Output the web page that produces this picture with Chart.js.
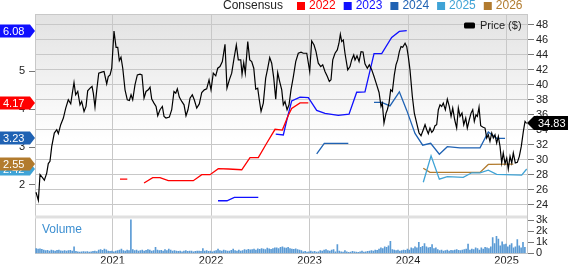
<!DOCTYPE html>
<html>
<head>
<meta charset="utf-8">
<script src="https://cdn.jsdelivr.net/npm/chart.js@4.4.1/dist/chart.umd.min.js"></script>
<style>
  html, body { margin: 0; padding: 0; background: #fff; }
  #wrap { position: relative; width: 568px; height: 264px; }
</style>
</head>
<body>
<div id="wrap"><canvas id="chart" width="568" height="264"></canvas></div>
<script>
// price line (decimal years)
var priceTimes = [
  2020.223, 2020.247, 2020.264, 2020.291, 2020.308, 2020.332, 2020.348, 2020.365, 2020.383, 2020.409,
  2020.434, 2020.450, 2020.474, 2020.501, 2020.525, 2020.551, 2020.576, 2020.592, 2020.609, 2020.626,
  2020.647, 2020.670, 2020.687, 2020.711, 2020.731, 2020.748, 2020.772, 2020.792, 2020.805, 2020.822,
  2020.840, 2020.860, 2020.890, 2020.914, 2020.941, 2020.957, 2020.975, 2020.992, 2021.015, 2021.036,
  2021.053, 2021.069, 2021.086, 2021.104, 2021.127, 2021.150, 2021.171, 2021.188, 2021.205, 2021.228,
  2021.252, 2021.279, 2021.299, 2021.320, 2021.340, 2021.363, 2021.381, 2021.398, 2021.421, 2021.442,
  2021.459, 2021.482, 2021.506, 2021.523, 2021.543, 2021.577, 2021.601, 2021.624, 2021.642, 2021.658,
  2021.678, 2021.703, 2021.726, 2021.746, 2021.766, 2021.787, 2021.810, 2021.830, 2021.855, 2021.881,
  2021.906, 2021.932, 2021.956, 2021.980, 2022.000, 2022.023, 2022.048, 2022.068, 2022.091, 2022.115,
  2022.142, 2022.162, 2022.186, 2022.210, 2022.234, 2022.257, 2022.277, 2022.302, 2022.315, 2022.332,
  2022.348, 2022.373, 2022.393, 2022.413, 2022.434, 2022.454, 2022.474, 2022.490, 2022.508, 2022.531,
  2022.555, 2022.576, 2022.596, 2022.616, 2022.637, 2022.657, 2022.677, 2022.697, 2022.718, 2022.734,
  2022.751, 2022.772, 2022.792, 2022.812, 2022.836, 2022.860, 2022.886, 2022.914, 2022.937, 2022.972,
  2023.002, 2023.022, 2023.046, 2023.066, 2023.089, 2023.114, 2023.134, 2023.157, 2023.181, 2023.201,
  2023.218, 2023.236, 2023.259, 2023.282, 2023.299, 2023.313, 2023.327, 2023.343, 2023.360, 2023.388,
  2023.411, 2023.428, 2023.449, 2023.462, 2023.482, 2023.503, 2023.523, 2023.543, 2023.563, 2023.587,
  2023.607, 2023.632, 2023.655, 2023.682, 2023.706, 2023.726, 2023.739, 2023.756, 2023.777, 2023.790,
  2023.807, 2023.824, 2023.841, 2023.861, 2023.878, 2023.895, 2023.912, 2023.929, 2023.946, 2023.970,
  2023.987, 2024.003, 2024.020, 2024.044, 2024.064, 2024.088, 2024.112, 2024.132, 2024.155, 2024.173,
  2024.190, 2024.206, 2024.223, 2024.241, 2024.257, 2024.274, 2024.291, 2024.308, 2024.325, 2024.342,
  2024.358, 2024.379, 2024.399, 2024.419, 2024.437, 2024.454, 2024.474, 2024.494, 2024.511, 2024.528,
  2024.548, 2024.566, 2024.586, 2024.602, 2024.622, 2024.640, 2024.657, 2024.673, 2024.690, 2024.704,
  2024.721, 2024.738, 2024.758, 2024.782, 2024.799, 2024.815, 2024.832, 2024.850, 2024.866, 2024.883,
  2024.900, 2024.917, 2024.934, 2024.951, 2024.967, 2024.985, 2025.002, 2025.018, 2025.036, 2025.053,
  2025.069, 2025.089, 2025.110, 2025.130, 2025.150, 2025.171, 2025.188, 2025.205
];
var prices = [
  25.64, 24.57, 28.00, 27.56, 27.24, 28.20, 29.47, 29.78, 31.77, 33.55,
  34.00, 33.47, 34.67, 35.56, 36.89, 38.00, 37.47, 38.89, 40.31, 38.67,
  39.11, 37.33, 37.78, 36.44, 37.11, 39.20, 39.56, 39.78, 38.89, 37.02,
  39.33, 41.56, 41.69, 41.78, 40.13, 41.11, 41.33, 42.22, 47.20, 45.02,
  45.02, 43.24, 43.69, 42.22, 39.33, 38.00, 37.91, 38.67, 38.00, 40.00,
  41.33, 41.42, 41.33, 38.22, 39.11, 39.33, 39.69, 38.09, 37.56, 37.11,
  35.87, 36.67, 37.11, 35.78, 35.56, 35.69, 36.67, 39.11, 38.89, 39.47,
  38.36, 37.78, 37.33, 35.87, 36.67, 38.22, 38.67, 38.00, 36.89, 37.45,
  38.98, 39.33, 39.47, 40.67, 39.33, 41.56, 41.20, 42.22, 42.44, 43.11,
  45.42, 39.56, 40.67, 41.56, 43.56, 45.33, 43.33, 43.33, 41.42, 42.98,
  41.56, 45.78, 43.33, 43.11, 42.22, 39.42, 39.56, 38.00, 36.44, 37.56,
  40.89, 42.22, 43.64, 42.89, 40.89, 38.09, 41.64, 40.44, 39.33, 37.33,
  37.78, 36.67, 37.33, 39.33, 41.11, 43.11, 44.22, 44.36, 44.22, 44.22,
  41.78, 45.87, 45.33, 44.44, 42.89, 42.44, 42.67, 41.78, 41.11, 40.44,
  40.67, 43.33, 44.22, 44.67, 45.56, 46.76, 45.78, 46.00, 44.22, 42.00,
  42.44, 43.33, 44.00, 43.33, 43.87, 43.11, 44.44, 44.40, 42.80, 42.22,
  42.67, 42.00, 41.11, 40.00, 38.98, 37.11, 37.56, 34.89, 36.22, 36.67,
  37.56, 39.33, 39.11, 41.33, 42.67, 43.33, 44.44, 45.11, 45.02, 45.56,
  45.11, 43.78, 42.00, 38.44, 36.22, 34.89, 33.56, 33.20, 34.00, 34.67,
  34.00, 33.47, 34.22, 33.64, 33.91, 34.53, 34.67, 36.67, 37.33, 37.11,
  37.56, 36.67, 38.09, 37.11, 35.78, 36.89, 35.33, 34.22, 36.89, 35.78,
  36.22, 34.67, 35.56, 34.22, 35.33, 36.22, 36.67, 35.11, 36.00, 35.78,
  37.02, 34.53, 34.36, 34.22, 32.89, 33.33, 32.44, 33.56, 32.89, 33.33,
  32.22, 33.11, 31.77, 29.56, 30.89, 29.47, 30.22, 28.76, 30.44, 29.56,
  30.89, 29.56, 29.64, 30.44, 31.77, 33.78, 35.11, 34.83
];

// consensus EPS by fiscal year (null = gap in the line)
var cons2022Times = [2021.076, 2021.150, 2021.235, 2021.320, 2021.408, 2021.482, 2021.566, 2021.820, 2021.906, 2021.990,
  2022.074, 2022.176, 2022.312, 2022.396, 2022.480, 2022.565, 2022.650, 2022.724, 2022.785, 2022.819, 2022.904, 2022.988];
var cons2022 = [2.15, 2.15, null, 2.05, 2.19, 2.19, 2.11, 2.11, 2.27, 2.27,
  2.43, 2.42, 2.40, 2.72, 2.72, 3.10, 3.47, 3.45, 3.84, 4.02, 4.17, 4.17];
var cons2023Times = [2022.071, 2022.162, 2022.237, 2022.480, 2022.570, 2022.657, 2022.734, 2022.769, 2022.819, 2022.904,
  2022.988, 2023.073, 2023.157, 2023.292, 2023.401, 2023.479, 2023.563, 2023.655, 2023.733, 2023.834, 2023.912, 2023.987];
var cons2023 = [1.58, 1.58, 1.67, 1.67, null, 3.34, 3.32, 3.71, 4.22, 4.32,
  4.31, 3.97, 3.89, 3.84, 3.87, 4.45, 4.46, 5.47, 5.47, 5.90, 6.06, 6.08];
var cons2024Times = [2023.073, 2023.150, 2023.394, 2023.520, 2023.655, 2023.733, 2023.817, 2023.912, 2023.987, 2024.071,
  2024.149, 2024.230, 2024.318, 2024.399, 2024.528, 2024.731, 2024.815, 2024.900, 2024.985];
var cons2024 = [2.82, 3.10, 3.10, null, 4.18, 4.18, 4.09, 4.46, 3.97, 3.36,
  3.05, 3.10, 2.81, 3.01, 2.98, 2.98, 3.40, 3.23, 3.23];
var cons2025Times = [2024.155, 2024.234, 2024.318, 2024.399, 2024.561, 2024.647, 2024.731, 2024.815, 2024.900, 2025.154, 2025.205];
var cons2025 = [2.07, 2.77, 2.15, 2.22, 2.20, 2.32, 2.32, 2.39, 2.28, 2.26, 2.42];
var cons2026Times = [2024.155, 2024.223, 2024.731, 2024.815, 2025.069];
var cons2026 = [2.44, 2.33, 2.33, 2.54, 2.55];

// weekly volume in thousands, first week starting at volumeStart
var volumeStart = 2020.225;
var volumes = [
  0.45, 0.4, 0.42, 0.38, 0.3, 0.25, 0.28, 0.22, 0.3, 0.25, 0.2, 0.27, 0.3, 0.24, 0.22, 0.26, 0.2, 0.25, 0.28, 0.22,
  0.6, 0.18, 0.15, 0.12, 0.15, 0.17, 0.14, 0.16, 0.13, 0.15, 0.18, 0.2, 0.17, 0.3, 0.35, 0.28, 0.4, 0.32, 0.2, 0.18,
  0.22, 0.15, 0.2, 0.25, 0.3, 0.4, 0.25, 0.2, 0.3, 0.25, 3.05, 0.35, 0.25, 0.3, 0.2, 0.25, 0.3, 0.22, 0.28, 0.35,
  0.3, 0.2, 0.25, 0.55, 0.3, 0.25, 0.28, 0.2, 0.35, 0.25, 0.4, 0.3, 0.22, 0.25, 0.2, 0.18, 0.22, 0.15, 0.2, 0.25,
  0.18, 0.22, 0.2, 0.15, 0.18, 0.22, 0.2, 0.18, 0.45, 0.2, 0.25, 0.18, 0.22, 0.15, 0.2, 0.25, 0.4, 0.25, 0.2, 0.3,
  0.25, 0.2, 0.22, 0.28, 0.4, 0.25, 0.2, 0.3, 0.22, 0.25, 0.35, 0.3, 0.38, 0.32, 0.35, 0.4, 0.3, 0.42, 0.38, 0.45,
  0.4, 0.35, 0.48, 0.42, 0.38, 0.45, 0.5, 0.5, 0.45, 0.55, 0.6, 0.5, 0.48, 0.55, 0.45, 0.4, 0.38, 0.42, 0.35, 0.3,
  0.25, 0.15, 0.18, 0.12, 0.15, 0.2, 0.15, 0.18, 0.12, 0.15, 0.25, 0.2, 0.3, 0.35, 0.25, 0.2, 0.3, 0.35, 0.15, 0.8,
  0.2, 0.15, 0.12, 0.25, 0.15, 0.1, 0.12, 0.18, 0.15, 0.12, 0.1, 0.15, 0.2, 0.12, 0.15, 0.18, 0.22, 0.25, 0.2, 0.3,
  0.28, 0.4, 0.5, 0.45, 0.6, 0.55, 0.7, 1.1, 0.35, 0.3, 0.25, 0.3, 0.2, 0.25, 0.3, 0.28, 0.4, 0.3, 0.5, 0.45,
  0.6, 0.5, 1.0, 0.55, 0.65, 0.9, 0.6, 0.5, 0.55, 0.8, 0.45, 0.5, 0.35, 0.25, 0.3, 0.2, 0.25, 0.3, 0.22, 0.28,
  0.25, 0.3, 0.35, 0.28, 0.25, 0.3, 0.35, 0.4, 0.85, 0.3, 0.4, 0.35, 0.5, 0.45, 0.3, 0.5, 0.4, 0.55, 0.5, 0.45,
  0.6, 1.45, 0.9, 1.55, 1.3, 0.7, 1.05, 0.8, 0.85, 0.6, 0.75, 0.9, 0.5, 0.6, 1.25, 0.7, 0.5, 1.0, 0.55
];

var yearTicks = [2021, 2022, 2023, 2024, 2025];
var priceTicks = [24, 26, 28, 30, 32, 34, 36, 38, 40, 42, 44, 46, 48];
var epsTicks = [2, 3, 4, 5];
var volumeTicks = [0, 1, 2, 3];

var consYears = ['2022', '2023', '2024', '2025', '2026'];
var consColors = ['#ff0000', '#1010ff', '#1f62b3', '#3fa3d6', '#b27b2e'];

var FONT = 'Liberation Sans, Arial, sans-serif';

function pairs(xs, ys) {
  return xs.map(function (x, i) { return { x: x, y: ys[i] }; });
}

var consSeries = [
  [cons2022Times, cons2022], [cons2023Times, cons2023], [cons2024Times, cons2024],
  [cons2025Times, cons2025], [cons2026Times, cons2026]
];

var datasets = [{
  type: 'line',
  label: 'Price ($)',
  data: pairs(priceTimes, prices),
  yAxisID: 'yPrice',
  borderColor: '#000',
  borderWidth: 1.2,
  pointRadius: 0,
  tension: 0
}];

consSeries.forEach(function (s, i) {
  datasets.push({
    type: 'line',
    label: consYears[i],
    data: pairs(s[0], s[1]),
    yAxisID: 'yEps',
    borderColor: consColors[i],
    borderWidth: 1.3,
    pointRadius: 0,
    tension: 0,
    spanGaps: false
  });
});

datasets.push({
  type: 'bar',
  label: 'Volume',
  data: volumes.map(function (v, i) { return { x: volumeStart + i / 52, y: v }; }),
  xAxisID: 'x',
  yAxisID: 'yVol',
  backgroundColor: '#5b9bd5',
  barThickness: 1
});

// background, panel split, labels on both sides
var decor = {
  id: 'decor',
  beforeDraw: function (chart) {
    var ctx = chart.ctx, ca = chart.chartArea, yP = chart.scales.yPrice;
    ctx.save();
    var g = ctx.createLinearGradient(0, yP.top, 0, yP.bottom);
    g.addColorStop(0, '#e2e2e2');
    g.addColorStop(0.62, '#ffffff');
    ctx.fillStyle = g;
    ctx.fillRect(ca.left, yP.top, ca.right - ca.left, yP.bottom - yP.top);
    ctx.restore();
  },
  beforeDatasetsDraw: function (chart) {
    var ctx = chart.ctx, ca = chart.chartArea, yP = chart.scales.yPrice;
    ctx.save();
    ctx.fillStyle = '#e0e0e0';
    ctx.fillRect(ca.left, yP.bottom, ca.right - ca.left, 3);
    ctx.strokeStyle = '#c8c8c8';
    ctx.lineWidth = 1;
    ctx.beginPath();
    ctx.moveTo(ca.left, ca.top + 0.5);
    ctx.lineTo(ca.right, ca.top + 0.5);
    ctx.stroke();
    ctx.restore();
  },
  afterDraw: function (chart) {
    var ctx = chart.ctx, yE = chart.scales.yEps, yP = chart.scales.yPrice;
    ctx.save();
    ctx.font = '11px ' + FONT;
    ctx.textBaseline = 'middle';

    // last consensus values on the left
    consSeries.forEach(function (s, i) {
      var vals = s[1], v = vals[vals.length - 1];
      var y = Math.round(yE.getPixelForValue(v));
      ctx.fillStyle = consColors[i];
      ctx.beginPath();
      ctx.moveTo(0, y - 6.5);
      ctx.lineTo(30, y - 6.5);
      ctx.lineTo(35, y);
      ctx.lineTo(30, y + 6.5);
      ctx.lineTo(0, y + 6.5);
      ctx.closePath();
      ctx.fill();
      ctx.fillStyle = '#fff';
      ctx.textAlign = 'left';
      ctx.fillText(v.toFixed(2), 3, y + 0.5);
    });

    // last price on the right
    var last = prices[prices.length - 1];
    var py = Math.round(yP.getPixelForValue(last));
    ctx.fillStyle = '#000';
    ctx.beginPath();
    ctx.moveTo(527, py);
    ctx.lineTo(534, py - 7);
    ctx.lineTo(568, py - 7);
    ctx.lineTo(568, py + 7);
    ctx.lineTo(534, py + 7);
    ctx.closePath();
    ctx.fill();
    ctx.fillStyle = '#fff';
    ctx.fillText(last.toFixed(2), 538, py + 0.5);

    // price legend
    ctx.fillStyle = '#000';
    ctx.beginPath();
    ctx.roundRect(464, 22.5, 11, 6, 1.5);
    ctx.fill();
    ctx.fillStyle = '#222';
    ctx.fillText('Price ($)', 480, 26);

    // consensus legend along the top
    ctx.font = '12px ' + FONT;
    ctx.fillStyle = '#222';
    ctx.fillText('Consensus', 223, 6);
    var lx = 297;
    consYears.forEach(function (yr, i) {
      ctx.fillStyle = consColors[i];
      ctx.fillRect(lx, 2, 8, 8);
      ctx.fillText(yr, lx + 12, 6);
      lx += 12 + ctx.measureText(yr).width + 8;
    });

    // volume caption
    ctx.fillStyle = '#3d8fd1';
    ctx.fillText('Volume', 42, 230);
    ctx.restore();
  }
};

var tickFont = { family: FONT, size: 11 };

new Chart(document.getElementById('chart'), {
  data: { datasets: datasets },
  options: {
    responsive: false,
    animation: false,
    events: [],
    layout: { padding: { top: 14, left: 0, right: 0, bottom: 0 } },
    plugins: { legend: { display: false }, tooltip: { enabled: false } },
    scales: {
      x: {
        type: 'linear',
        offset: false,
        min: 2020.213,
        max: 2025.208,
        afterBuildTicks: function (s) { s.ticks = yearTicks.map(function (v) { return { value: v }; }); },
        afterFit: function (s) { s.height = 10; },
        grid: { color: '#c8c8c8', drawTicks: false, offset: false },
        border: { color: '#c8c8c8' },
        ticks: { padding: 1, autoSkip: false, color: '#222', font: tickFont, maxRotation: 0, callback: function (v) { return String(v); } }
      },
      yPrice: {
        position: 'right',
        stack: 'right',
        stackWeight: 202,
        min: 22.53,
        max: 49.47,
        afterBuildTicks: function (s) { s.ticks = priceTicks.map(function (v) { return { value: v }; }); },
        afterFit: function (s) { s.width = 41; },
        grid: { color: '#c8c8c8', tickColor: '#777', tickLength: 7 },
        border: { color: '#c8c8c8' },
        ticks: { padding: 2, autoSkip: false, color: '#222', font: tickFont }
      },
      yVol: {
        position: 'right',
        stack: 'right',
        stackWeight: 38,
        min: 0,
        max: 3.45,
        afterBuildTicks: function (s) { s.ticks = volumeTicks.map(function (v) { return { value: v }; }); },
        afterFit: function (s) { s.width = 41; },
        grid: { drawOnChartArea: false, tickColor: '#777', tickLength: 7 },
        border: { color: '#c8c8c8' },
        ticks: { padding: 2, autoSkip: false, color: '#222', font: tickFont, callback: function (v) { return v === 0 ? '0' : v + 'k'; } }
      },
      yVolLeft: {
        position: 'left',
        stack: 'left',
        stackWeight: 38,
        min: 0,
        max: 1,
        afterFit: function (s) { s.width = 35; },
        grid: { drawOnChartArea: false, drawTicks: false },
        border: { color: '#c8c8c8' },
        ticks: { display: false }
      },
      yEps: {
        position: 'left',
        stack: 'left',
        stackWeight: 202,
        min: 1.19,
        max: 6.52,
        afterBuildTicks: function (s) { s.ticks = epsTicks.map(function (v) { return { value: v }; }); },
        afterFit: function (s) { s.width = 35; },
        grid: { drawOnChartArea: false, tickColor: '#777', tickLength: 6 },
        border: { color: '#c8c8c8' },
        ticks: { padding: 4, autoSkip: false, color: '#222', font: tickFont }
      }
    }
  },
  plugins: [decor]
});
</script>
</body>
</html>
